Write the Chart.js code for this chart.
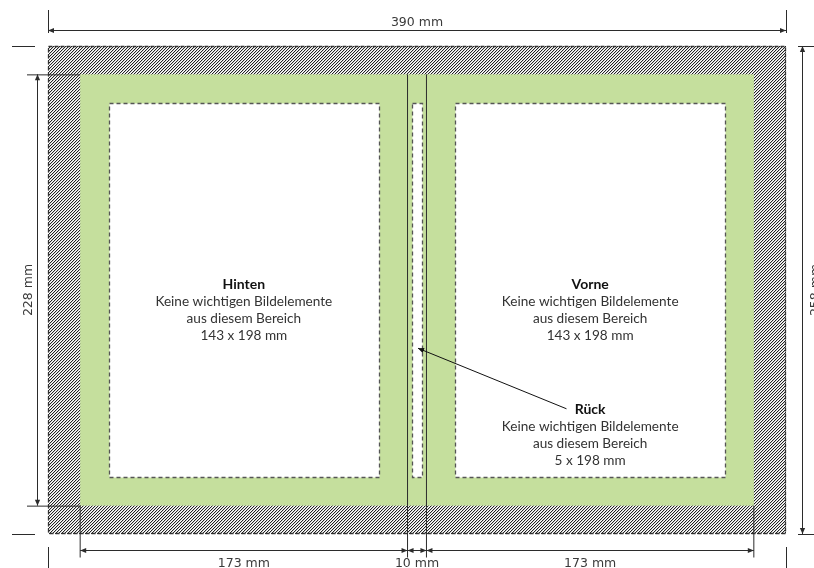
<!DOCTYPE html>
<html>
<head>
<meta charset="utf-8">
<script src="https://cdn.jsdelivr.net/npm/chart.js@4.4.1/dist/chart.umd.min.js"></script>
<style>
  body { margin: 0; background: #fff; }
  #wrap { width: 814px; height: 568px; }
</style>
</head>
<body>
<div id="wrap"><canvas id="cover" width="814" height="568"></canvas></div>
<script>
// all sizes in mm
const sections = ['Hinten', 'Rück', 'Vorne']
const sectionWidths = [173, 10, 173]
const safeWidths = [143, 5, 143]
const safeHeight = 198
const trimHeight = 228
const totalSize = [390, 258]
const infoLines = ['Keine wichtigen Bildelemente', 'aus diesem Bereich']
const widthLabels = ['173 mm', '10 mm', '173 mm']

const green = '#c5df9d'
const ink = '#2b2b2b'
const textFont = 'Lato, "Open Sans", sans-serif'
const dimFont = '"DejaVu Sans", sans-serif'

function hatchPattern(ctx){
    const tile = document.createElement('canvas')
    tile.width = 3
    tile.height = 3
    const t = tile.getContext('2d')
    const shades = ['#222', '#d0d0d0', '#fff']
    for (let i = 0; i < 3; i++) {
        for (let j = 0; j < 3; j++) {
            t.fillStyle = shades[(i + j) % 3]
            t.fillRect(i, j, 1, 1)
        }
    }
    return ctx.createPattern(tile, 'repeat')
}

function line(ctx, x1, y1, x2, y2){
    ctx.beginPath()
    ctx.moveTo(x1, y1)
    ctx.lineTo(x2, y2)
    ctx.stroke()
}

function arrowHead(ctx, x, y, angle){
    ctx.save()
    ctx.translate(x, y)
    ctx.rotate(angle)
    ctx.beginPath()
    ctx.moveTo(0, 0)
    ctx.lineTo(-6, -2.6)
    ctx.lineTo(-6, 2.6)
    ctx.closePath()
    ctx.fill()
    ctx.restore()
}

// dimension line with arrows at both ends
function dimLine(ctx, x1, y1, x2, y2){
    line(ctx, x1, y1, x2, y2)
    const a = Math.atan2(y2 - y1, x2 - x1)
    arrowHead(ctx, x2, y2, a)
    arrowHead(ctx, x1, y1, a + Math.PI)
}

const coverPlugin = {
    id: 'cover',
    afterDraw(chart){
        const {ctx, scales: {x, y}} = chart
        const X = v => x.getPixelForValue(v)
        const Y = v => y.getPixelForValue(v)
        const W = chart.width, H = chart.height

        const trimWidth = sectionWidths.reduce((a, b) => a + b, 0)
        const bleedX = (totalSize[0] - trimWidth) / 2
        const bleedY = (totalSize[1] - trimHeight) / 2
        const safeTop = bleedY + (trimHeight - safeHeight) / 2

        // section edges
        const edges = [bleedX]
        sectionWidths.forEach(w => edges.push(edges[edges.length - 1] + w))

        ctx.save()

        // bleed area
        ctx.fillStyle = hatchPattern(ctx)
        ctx.fillRect(X(0), Y(0), X(totalSize[0]) - X(0), Y(totalSize[1]) - Y(0))

        // trim area
        ctx.fillStyle = green
        ctx.fillRect(X(edges[0]), Y(bleedY), X(edges[3]) - X(edges[0]), Y(bleedY + trimHeight) - Y(bleedY))

        // safe areas
        sections.forEach((s, i) => {
            const left = edges[i] + (sectionWidths[i] - safeWidths[i]) / 2
            const x1 = Math.round(X(left)) + 0.5
            const x2 = Math.round(X(left + safeWidths[i])) + 0.5
            const y1 = Math.round(Y(safeTop)) + 0.5
            const y2 = Math.round(Y(safeTop + safeHeight)) + 0.5
            ctx.fillStyle = '#fff'
            ctx.fillRect(x1, y1, x2 - x1, y2 - y1)
            ctx.setLineDash([4, 3])
            ctx.strokeStyle = '#555'
            ctx.lineWidth = 1.3
            ctx.strokeRect(x1, y1, x2 - x1, y2 - y1)
        })

        // bleed border
        ctx.setLineDash([4, 2])
        ctx.strokeStyle = '#333'
        ctx.lineWidth = 1.3
        ctx.strokeRect(X(0) + 0.5, Y(0) + 0.5, X(totalSize[0]) - X(0) - 1, Y(totalSize[1]) - Y(0) - 1)
        ctx.setLineDash([])

        ctx.strokeStyle = ink
        ctx.fillStyle = ink
        ctx.lineWidth = 1

        const bottom = Y(totalSize[1])
        const dimY = bottom + 16.5

        // spine folds
        line(ctx, X(edges[1]), Y(bleedY), X(edges[1]), dimY + 7)
        line(ctx, X(edges[2]), Y(bleedY), X(edges[2]), dimY + 7)
        // trim extensions at the bottom
        line(ctx, X(edges[0]), Y(bleedY + trimHeight), X(edges[0]), dimY + 7)
        line(ctx, X(edges[3]), Y(bleedY + trimHeight), X(edges[3]), dimY + 7)

        // crop marks
        line(ctx, X(0) - 36, Y(0) + 0.5, X(0) - 13, Y(0) + 0.5)
        line(ctx, X(0) - 36, bottom + 0.5, X(0) - 13, bottom + 0.5)
        line(ctx, X(totalSize[0]) + 12, Y(0) + 0.5, W, Y(0) + 0.5)
        line(ctx, X(totalSize[0]) + 12, bottom + 0.5, W, bottom + 0.5)
        line(ctx, X(0) + 0.5, Y(0) - 36, X(0) + 0.5, Y(0) - 13)
        line(ctx, X(totalSize[0]) + 0.5, Y(0) - 36, X(totalSize[0]) + 0.5, Y(0) - 13)
        line(ctx, X(0) + 0.5, bottom + 13, X(0) + 0.5, H)
        line(ctx, X(totalSize[0]) + 0.5, bottom + 13, X(totalSize[0]) + 0.5, H)

        // trim extensions on the left
        line(ctx, X(0) - 21, Y(bleedY) + 0.5, X(edges[0]), Y(bleedY) + 0.5)
        line(ctx, X(0) - 21, Y(bleedY + trimHeight) + 0.5, X(edges[0]), Y(bleedY + trimHeight) + 0.5)

        // dimension lines
        const topY = Y(0) - 15.5
        dimLine(ctx, X(0), topY, X(totalSize[0]), topY)
        const leftX = X(0) - 10.5
        dimLine(ctx, leftX, Y(bleedY), leftX, Y(bleedY + trimHeight))
        const rightX = X(totalSize[0]) + 16.5
        dimLine(ctx, rightX, Y(0), rightX, bottom)
        for (let i = 0; i < 3; i++) {
            dimLine(ctx, X(edges[i]), dimY, X(edges[i + 1]), dimY)
        }

        // dimension labels
        ctx.font = '12.5px ' + dimFont
        ctx.fillStyle = '#3a3a3a'
        ctx.textAlign = 'center'
        ctx.textBaseline = 'alphabetic'
        ctx.fillText(totalSize[0] + ' mm', X(totalSize[0] / 2), topY - 5)
        for (let i = 0; i < 3; i++) {
            ctx.fillText(widthLabels[i], X((edges[i] + edges[i + 1]) / 2), dimY + 16)
        }
        ctx.save()
        ctx.translate(leftX - 6, Y(totalSize[1] / 2))
        ctx.rotate(-Math.PI / 2)
        ctx.fillText(trimHeight + ' mm', 0, 0)
        ctx.restore()
        ctx.save()
        ctx.translate(rightX + 16, Y(totalSize[1] / 2))
        ctx.rotate(-Math.PI / 2)
        ctx.fillText(totalSize[1] + ' mm', 0, 0)
        ctx.restore()

        // section texts
        const blocks = [
            {i: 0, cx: (edges[0] + edges[1]) / 2, ty: 128.3},
            {i: 2, cx: (edges[2] + edges[3]) / 2, ty: 128.3},
            {i: 1, cx: (edges[2] + edges[3]) / 2, ty: 194.6}
        ]
        blocks.forEach(b => {
            const px = X(b.cx), py = Y(b.ty)
            ctx.fillStyle = '#111'
            ctx.font = 'bold 14px ' + textFont
            ctx.fillText(sections[b.i], px, py)
            ctx.fillStyle = '#333'
            ctx.font = '13.6px ' + textFont
            const lines = infoLines.concat([safeWidths[b.i] + ' x ' + safeHeight + ' mm'])
            lines.forEach((t, k) => ctx.fillText(t, px, py + 17 * (k + 1)))
        })

        // pointer from the spine label to the spine safe area
        const sx = X(274), sy = Y(191.8)
        const ex = X(edges[1] + sectionWidths[1] / 2) + 1, ey = Y(159.8)
        ctx.strokeStyle = '#111'
        ctx.fillStyle = '#111'
        line(ctx, sx, sy, ex, ey)
        arrowHead(ctx, ex, ey, Math.atan2(ey - sy, ex - sx))

        ctx.restore()
    }
}

const chart = new Chart(document.getElementById('cover'), {
    type: 'scatter',
    data: { datasets: [] },
    options: {
        responsive: false,
        animation: false,
        layout: {
            padding: { left: 48, right: 28, top: 46, bottom: 34 }
        },
        plugins: {
            legend: { display: false },
            tooltip: { enabled: false }
        },
        scales: {
            x: { type: 'linear', min: 0, max: totalSize[0], display: false },
            y: { type: 'linear', min: 0, max: totalSize[1], reverse: true, display: false }
        }
    },
    plugins: [coverPlugin]
})
</script>
</body>
</html>
